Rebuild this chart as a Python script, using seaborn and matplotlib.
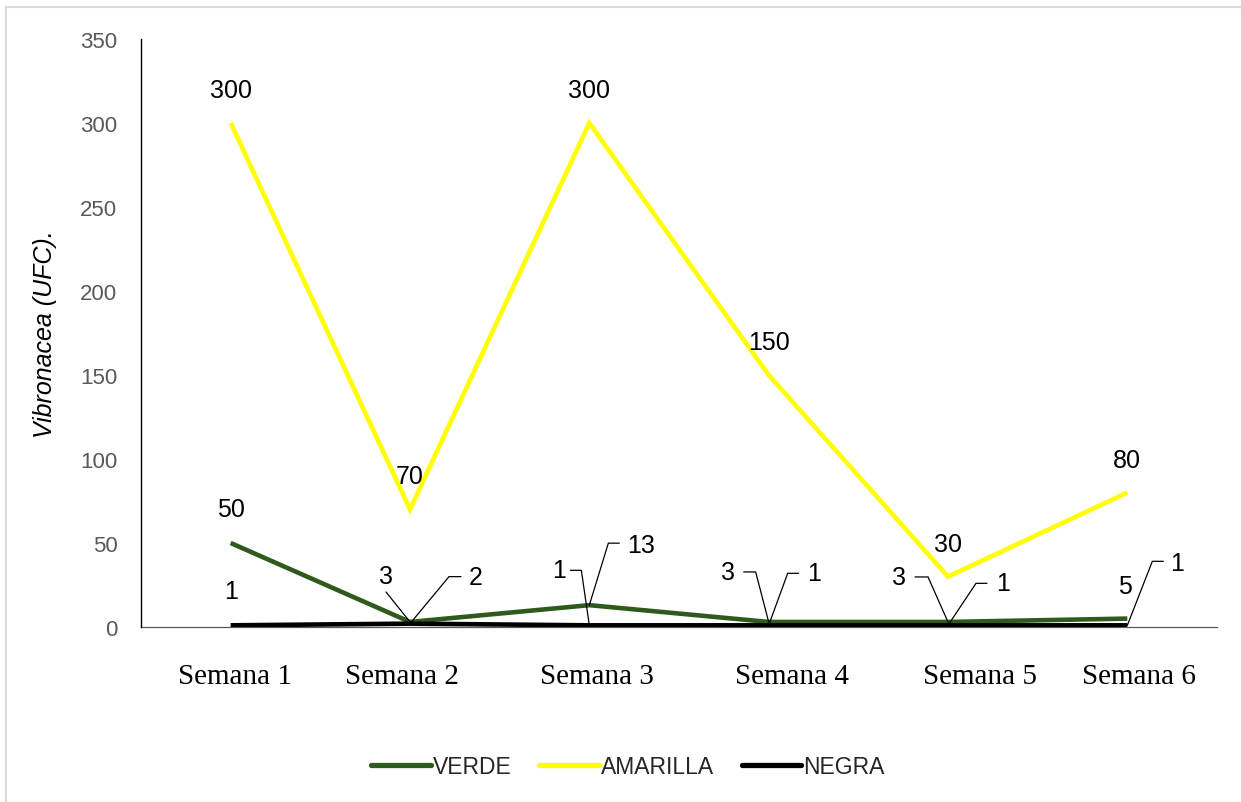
import matplotlib
matplotlib.use("Agg")
import matplotlib.pyplot as plt
import matplotlib.transforms as mtransforms
import seaborn as sns
import pandas as pd
from matplotlib.lines import Line2D
from matplotlib.patches import Rectangle

# --- data -------------------------------------------------------------
semanas = ["Semana 1", "Semana 2", "Semana 3", "Semana 4", "Semana 5", "Semana 6"]
verde = [50, 3, 13, 3, 3, 5]
amarilla = [300, 70, 300, 150, 30, 80]
negra = [1, 2, 1, 1, 1, 1]

series_names = ["VERDE", "AMARILLA", "NEGRA"]
series_colors = ["#2E5A1C", "#FFFF00", "#000000"]

df = pd.DataFrame({"Semana": semanas * 3,
                   "Serie": [s for s in series_names for _ in semanas],
                   "UFC": verde + amarilla + negra})

# --- figure -----------------------------------------------------------
sns.set_theme(style="white")
plt.rcParams["font.family"] = ["Liberation Sans", "DejaVu Sans"]

W, H = 1241, 803
fig = plt.figure(figsize=(W / 100, H / 100), dpi=100)
ax = fig.add_axes([141 / W, 1 - 628 / H, (1217 - 141) / W, (628 - 40) / H])

sns.lineplot(data=df, x="Semana", y="UFC", hue="Serie", hue_order=series_names,
             palette=series_colors, sort=False, linewidth=3.3, legend=False, ax=ax)
for ln in ax.get_lines():
    ln.set_solid_capstyle("butt")
    ln.set_solid_joinstyle("miter")

ax.set_xlim(-0.5, len(semanas) - 0.5)
ax.set_ylim(0, 350)
ax.set_yticks(range(0, 351, 50))
ax.tick_params(axis="y", length=0, pad=17, labelsize=16, labelcolor="#595959")
ax.tick_params(axis="x", length=0, pad=26)
ax.set_xticks(range(len(semanas)))
ax.set_xticklabels(semanas, fontfamily="Liberation Serif", fontsize=21, color="black")

# the week labels sit slightly off their category centres (pixel shifts)
label_shift_px = [4, -8, 8, 23, 32, 12]
for tl, sh in zip(ax.get_xticklabels(), label_shift_px):
    tl.set_transform(tl.get_transform() +
                     mtransforms.ScaledTranslation(sh / 100, 0, fig.dpi_scale_trans))

ax.set_xlabel("")
ax.set_ylabel("Vibronacea (UFC).", fontsize=18, fontstyle="italic", color="black")
ax.yaxis.set_label_coords((57 - 141) / (1217 - 141), 0.5)

for side in ("top", "right"):
    ax.spines[side].set_visible(False)
ax.spines["left"].set_color("black")
ax.spines["left"].set_linewidth(1.0)
ax.spines["bottom"].set_color("#595959")
ax.spines["bottom"].set_linewidth(0.9)
ax.spines["bottom"].set_zorder(0)

# --- data labels ------------------------------------------------------
LABEL_FS = 18


def to_data(px, py):
    return ax.transData.inverted().transform((px, py))


def label(i, value, dx, dy, leader=None):
    """Place a value label dx,dy pixels (up = positive) from the point.
    leader: list of pixel offsets (from the point) describing a leader line."""
    ax.annotate(str(value), xy=(i, value), xytext=(dx, dy), textcoords="offset pixels",
                ha="center", va="center", fontsize=LABEL_FS, color="black", zorder=6)
    if leader:
        px, py = ax.transData.transform((i, value))
        pts = [to_data(px + ox, py + oy) for ox, oy in leader]
        ax.add_line(Line2D([p[0] for p in pts], [p[1] for p in pts], color="black",
                           lw=0.9, zorder=6, solid_joinstyle="miter"))


# AMARILLA: all labels centered above the point
for i, v in enumerate(amarilla):
    label(i, v, 0, 33)

# VERDE
label(0, verde[0], 0, 34)
label(1, verde[1], -24, 46, leader=[(-24, 30), (0, 0)])
label(2, verde[2], 52, 60, leader=[(30, 62), (19, 62), (0, 0)])
label(3, verde[3], -41, 50, leader=[(-25, 50), (-13, 50), (0, 0)])
label(4, verde[4], -49, 45, leader=[(-33, 45), (-20, 45), (0, 0)])
label(5, verde[5], -2, 33)

# NEGRA
label(0, negra[0], 0, 34)
label(1, negra[1], 66, 47, leader=[(51, 47), (39, 47), (0, 0)])
label(2, negra[2], -30, 55, leader=[(-19, 55), (-8, 55), (0, 0)])
label(3, negra[3], 45, 52, leader=[(30, 52), (19, 52), (0, 0)])
label(4, negra[4], 55, 42, leader=[(39, 42), (28, 42), (0, 0)])
label(5, negra[5], 50, 62, leader=[(36, 64), (25, 64), (0, 0)])

# --- legend -----------------------------------------------------------
handles = [Line2D([], [], color=c, lw=3.8, solid_capstyle="round") for c in series_colors]
fig.legend(handles, series_names, loc="center", bbox_to_anchor=(628 / W, 1 - 768 / H),
           ncol=3, frameon=False, fontsize=16.5, handlelength=2.6, handletextpad=0.1,
           columnspacing=1.2)

# light frame around the chart area
fig.add_artist(Rectangle((6 / W, -0.05), 1.2, 1 - 8 / H + 0.05, transform=fig.transFigure,
                         fill=False, edgecolor="#D9D9D9", lw=1.5))

fig.savefig("out.png", dpi=100, facecolor="white")
